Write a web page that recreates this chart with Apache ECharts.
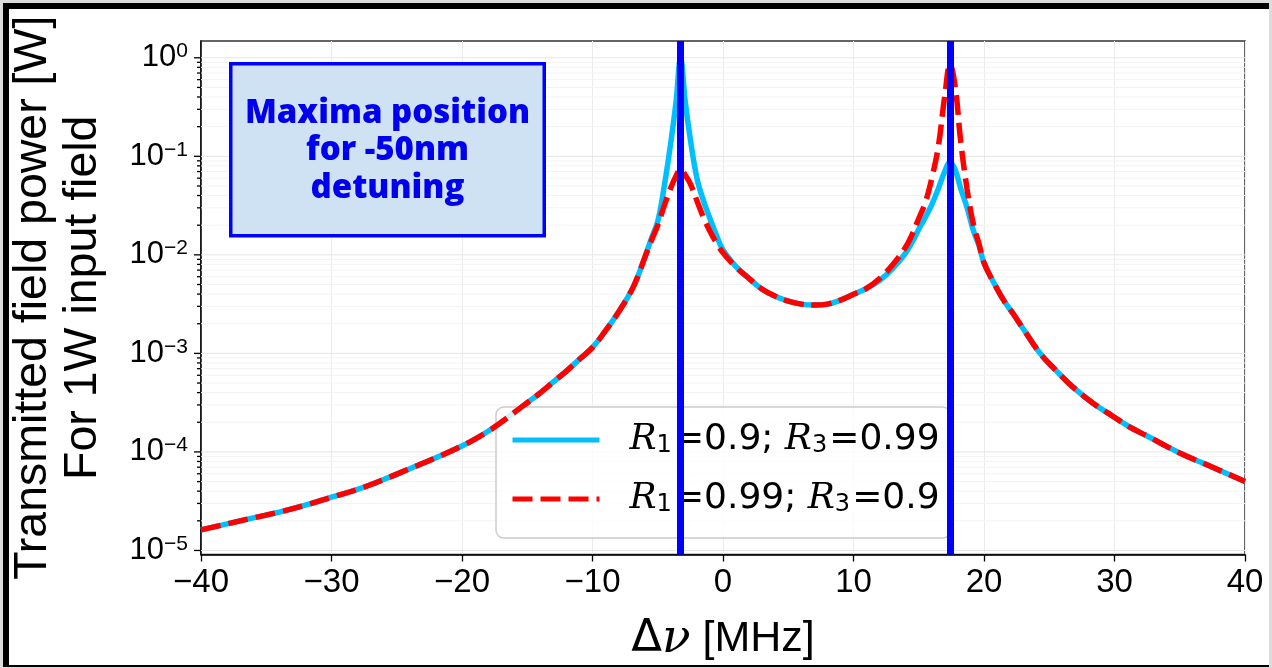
<!DOCTYPE html>
<html><head><meta charset="utf-8">
<script src="https://cdn.jsdelivr.net/npm/echarts@6/dist/echarts.min.js"></script>
<style>
html,body{margin:0;padding:0;background:#dcdcdc;}
#frame{position:absolute;left:3px;top:3px;width:1260px;height:656px;background:#fff;border-top:6px solid #000;border-left:6px solid #000;border-bottom:2px solid #000;}
#chart{position:absolute;left:0;top:0;width:1272px;height:668px;}
</style></head><body>
<div id="frame"></div><div id="chart"></div>
<script>
// Detuning (MHz)
const freq = [-40,-38,-36,-34,-32,-30,-28,-26,-24,-22,-20,-19,-18,-17,-16,-15,-14,-13,-12,-11,-10,-9,-8,-7,-6.5,-6,-5.5,-5,-4.5,-4,-3.6,-3.25,-2.9,-2.5,-2,-1.5,-1,-0.5,0,1,2,3,4,5,6,7,8,9,10,11,12,13,14,14.5,15,15.5,16,16.5,17,17.4,17.8,18.2,18.7,19.2,19.6,20,20.7,21.5,22.25,23,24.3,25.5,26.8,28.3,29.9,31.2,32.5,35,37.6,40];
// Transmitted power [W], R1=0.9; R3=0.99
const powerA = [1.62e-5,1.86e-5,2.14e-5,2.45e-5,2.88e-5,3.47e-5,4.17e-5,5.25e-5,6.76e-5,8.71e-5,1.15e-4,1.35e-4,1.62e-4,2.0e-4,2.51e-4,3.16e-4,3.98e-4,5.13e-4,6.61e-4,8.71e-4,1.15e-3,1.70e-3,2.63e-3,4.37e-3,6.17e-3,9.33e-3,0.0145,0.0219,0.050,0.138,0.355,0.98,0.363,0.148,0.060,0.0355,0.0234,0.0158,0.0112,7.6e-3,5.75e-3,4.47e-3,3.8e-3,3.39e-3,3.16e-3,3.09e-3,3.16e-3,3.47e-3,3.98e-3,4.57e-3,5.5e-3,7.24e-3,0.0105,0.0135,0.0182,0.024,0.0324,0.0468,0.0708,0.087,0.0724,0.0479,0.0302,0.0174,0.0126,8.3e-3,5.37e-3,3.47e-3,2.51e-3,1.78e-3,1.0e-3,6.76e-4,4.57e-4,3.16e-4,2.29e-4,1.78e-4,1.45e-4,9.77e-5,6.92e-5,5.0e-5];
// Transmitted power [W], R1=0.99; R3=0.9
const powerB = [1.62e-5,1.86e-5,2.14e-5,2.45e-5,2.88e-5,3.47e-5,4.17e-5,5.25e-5,6.76e-5,8.71e-5,1.15e-4,1.35e-4,1.62e-4,2.0e-4,2.51e-4,3.16e-4,3.98e-4,5.13e-4,6.61e-4,8.71e-4,1.15e-3,1.70e-3,2.63e-3,4.37e-3,6.17e-3,9.33e-3,0.0138,0.020,0.0316,0.0479,0.063,0.0741,0.0646,0.0525,0.0355,0.024,0.0174,0.0132,0.0105,7.5e-3,5.75e-3,4.47e-3,3.8e-3,3.39e-3,3.16e-3,3.09e-3,3.16e-3,3.47e-3,3.98e-3,4.57e-3,5.75e-3,7.94e-3,0.012,0.0162,0.0234,0.0339,0.060,0.126,0.417,0.85,0.50,0.148,0.0468,0.020,0.0132,8.3e-3,5.37e-3,3.47e-3,2.51e-3,1.78e-3,1.0e-3,6.76e-4,4.57e-4,3.16e-4,2.29e-4,1.78e-4,1.45e-4,9.77e-5,6.92e-5,5.0e-5];
const maximaPositions = [-3.25, 17.4];
const seriesNames = ['R1=0.9; R3=0.99', 'R1=0.99; R3=0.9'];
const annotationLines = ['Maxima position', 'for -50nm', 'detuning'];
const majorDecades = [1e-5,1e-4,1e-3,1e-2,1e-1,1];
const yMin = 9.1e-6, yMax = 1.48;
const minorTicks = [];
for (let e = -6; e <= 0; e++) for (let m = 2; m <= 9; m++) { const v = m * Math.pow(10, e); if (v > yMin && v < yMax) minorTicks.push(v); }

const chart = echarts.init(document.getElementById('chart'));
const sans = 'Liberation Sans';
const legendRich = {
  r: {fontFamily: 'DejaVu Serif', fontStyle: 'italic', fontSize: 36, lineHeight: 36, color: '#000'},
  sub: {fontFamily: 'DejaVu Sans', fontSize: 24, lineHeight: 12, verticalAlign: 'bottom', color: '#000', padding: [0, 2, 0, 0]},
  t: {fontFamily: 'DejaVu Sans', fontSize: 36, lineHeight: 36, color: '#000'}
};
function legendFmt(name) {
  const m = name.match(/R1=([\d.]+); R3=([\d.]+)/);
  return '{r|R}{sub|1}{t|=' + m[1] + '; }{r|R}{sub|3}{t|=' + m[2] + '}';
}
function tickRender(len, color) {
  return function (params, api) {
    const cs = params.coordSys;
    const y = api.coord([-40, api.value(1)])[1];
    return {type: 'group', children: [
      {type: 'line', shape: {x1: cs.x, y1: y, x2: cs.x + cs.width, y2: y}, style: {stroke: color, lineWidth: 1}},
      {type: 'line', shape: {x1: cs.x - len, y1: y, x2: cs.x, y2: y}, style: {stroke: '#000', lineWidth: 1.3}}
    ]};
  };
}
chart.setOption({
  animation: false,
  grid: {left: 201, top: 41, right: 27, bottom: 109, show: true, borderColor: '#333', borderWidth: 1.5, backgroundColor: 'transparent'},
  legend: {
    data: seriesNames, orient: 'vertical', left: 496, top: 407,
    itemWidth: 87, itemHeight: 14, itemGap: 23,
    padding: [15, 11, 21, 14],
    itemStyle: {opacity: 0},
    lineStyle: {width: 5},
    backgroundColor: 'rgba(255,255,255,0.8)', borderColor: '#cccccc', borderWidth: 1.5, borderRadius: 8,
    formatter: legendFmt,
    textStyle: {rich: legendRich, padding: [0, 0, 0, 25]},
    selectedMode: false
  },
  xAxis: {
    type: 'value', min: -40, max: 40, interval: 10,
    axisLine: {onZero: false, lineStyle: {color: '#000', width: 1.5}},
    axisTick: {length: 7, lineStyle: {color: '#000', width: 1.3}},
    axisLabel: {fontFamily: sans, fontSize: 33, color: '#000', margin: 12, formatter: v => String(v).replace('-', '\u2212')},
    splitLine: {show: true, lineStyle: {color: '#ececec', width: 1}},
    name: '{d|\u0394}{n|\u03bd}{a| [MHz]}', nameLocation: 'middle', nameGap: 62,
    nameTextStyle: {rich: {
      d: {fontFamily: 'DejaVu Sans', fontSize: 45, color: '#000', lineHeight: 46},
      n: {fontFamily: 'DejaVu Serif', fontStyle: 'italic', fontSize: 47, color: '#000', lineHeight: 46},
      a: {fontFamily: sans, fontSize: 43, color: '#000', lineHeight: 46}
    }}
  },
  yAxis: {
    type: 'log', logBase: 10, min: yMin, max: yMax,
    axisLine: {onZero: false, lineStyle: {color: '#000', width: 1.5}},
    axisTick: {show: false},
    splitLine: {show: false},
    axisLabel: {
      margin: 13,
      formatter: function (v) {
        const e = Math.log10(v), r = Math.round(e);
        if (Math.abs(e - r) > 0.01) return '';
        return '{b|10}{s|' + (r < 0 ? '\u2212' + (-r) : r) + '}';
      },
      rich: {
        b: {fontFamily: sans, fontSize: 31, color: '#000', lineHeight: 34},
        s: {fontFamily: sans, fontSize: 21, color: '#000', lineHeight: 28, verticalAlign: 'top'}
      }
    },
    name: 'Transmitted field power [W]\nFor 1W input field', nameLocation: 'middle', nameRotate: 90, nameGap: 93,
    nameTextStyle: {fontFamily: sans, fontSize: 46.5, color: '#000', lineHeight: 50, align: 'center'}
  },
  graphic: [{
    type: 'text', left: 229, top: 62, z: 100, silent: true,
    style: {
      text: annotationLines.map(s => '{c|' + s + '}').join('\n'),
      rich: {c: {width: 310, align: 'center', fill: '#0000ee', fontFamily: 'Open Sans', fontWeight: 800, fontSize: 33, lineHeight: 37.5}},
      backgroundColor: '#cfe2f3', borderColor: '#0000ff', borderWidth: 3.5, padding: [29, 0, 27, 0]
    }
  }],
  series: [
    {type: 'custom', silent: true, clip: false, z: 1, data: minorTicks.map(v => [-40, v]), renderItem: tickRender(4, '#f3f3f3')},
    {type: 'custom', silent: true, clip: false, z: 1, data: majorDecades.map(v => [-40, v]), renderItem: tickRender(7, '#e6e6e6')},
    {name: seriesNames[0], type: 'line', data: freq.map((x, i) => [x, powerA[i]]), showSymbol: false, symbol: 'none', smooth: 0.4,
     color: '#00bfff', lineStyle: {color: '#00bfff', width: 5.5}, z: 3, emphasis: {disabled: true}},
    {name: seriesNames[1], type: 'line', data: freq.map((x, i) => [x, powerB[i]]), showSymbol: false, symbol: 'none', smooth: 0.4,
     color: '#ff0000', lineStyle: {color: '#ff0000', width: 5.5, type: [20, 8]}, z: 4, emphasis: {disabled: true}},
    {type: 'line', data: [], z: 5, silent: true,
     markLine: {symbol: ['none', 'none'], silent: true, label: {show: false}, animation: false,
       lineStyle: {color: '#0000ff', width: 7, type: 'solid'},
       emphasis: {disabled: true},
       data: maximaPositions.map(x => ({xAxis: x}))}}
  ]
});
</script></body></html>
